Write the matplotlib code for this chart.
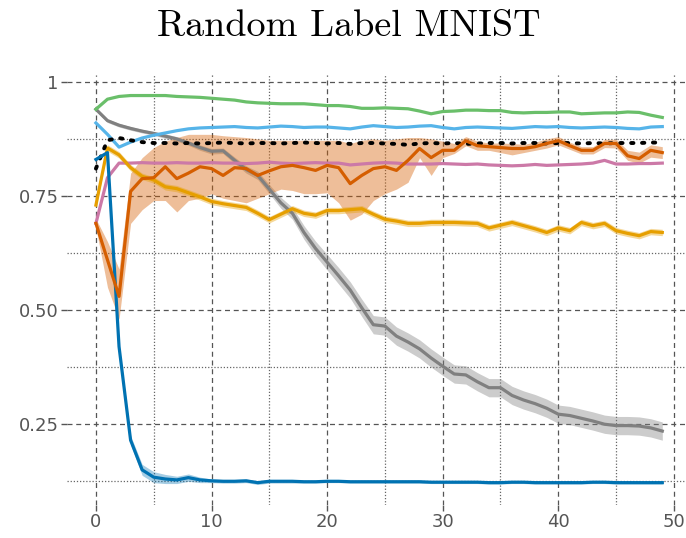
import numpy as np
import matplotlib
matplotlib.use("Agg")
import matplotlib.pyplot as plt
from matplotlib.ticker import MultipleLocator

epochs = np.arange(50)

green = [0.94, 0.962, 0.968, 0.97, 0.97, 0.97, 0.97, 0.968, 0.967, 0.966,
         0.964, 0.962, 0.96, 0.956, 0.954, 0.953, 0.952, 0.952, 0.952, 0.95,
         0.948, 0.948, 0.946, 0.942, 0.942, 0.943, 0.942, 0.941, 0.936, 0.93,
         0.935, 0.936, 0.938, 0.938, 0.937, 0.937, 0.933, 0.932, 0.933, 0.933,
         0.934, 0.934, 0.93, 0.931, 0.932, 0.932, 0.934, 0.933, 0.927, 0.922]

light_blue = [0.91, 0.885, 0.857, 0.868, 0.877, 0.883, 0.888, 0.893, 0.897, 0.899,
              0.9, 0.901, 0.902, 0.9, 0.899, 0.901, 0.903, 0.902, 0.9, 0.901,
              0.901, 0.899, 0.897, 0.901, 0.904, 0.902, 0.9, 0.901, 0.903, 0.904,
              0.9, 0.897, 0.9, 0.901, 0.9, 0.899, 0.898, 0.9, 0.902, 0.901,
              0.902, 0.9, 0.899, 0.9, 0.901, 0.9, 0.898, 0.897, 0.901, 0.902]

gray = [0.94, 0.915, 0.905, 0.898, 0.892, 0.887, 0.881, 0.875, 0.866, 0.856,
        0.848, 0.849, 0.828, 0.808, 0.795, 0.765, 0.735, 0.712, 0.67, 0.635,
        0.605, 0.575, 0.544, 0.505, 0.468, 0.465, 0.443, 0.43, 0.415, 0.395,
        0.377, 0.36, 0.358, 0.343, 0.33, 0.33, 0.313, 0.303, 0.295, 0.285,
        0.272, 0.269, 0.263, 0.257, 0.25, 0.247, 0.247, 0.246, 0.242, 0.235]
gray_err = [0.004, 0.004, 0.004, 0.004, 0.004, 0.004, 0.005, 0.005, 0.005, 0.006,
            0.006, 0.006, 0.007, 0.008, 0.009, 0.01, 0.012, 0.013, 0.015, 0.016,
            0.017, 0.018, 0.018, 0.019, 0.02, 0.02, 0.02, 0.02, 0.02, 0.02,
            0.02, 0.02, 0.02, 0.02, 0.02, 0.02, 0.02, 0.02, 0.02, 0.02,
            0.02, 0.02, 0.02, 0.02, 0.02, 0.02, 0.02, 0.02, 0.02, 0.02]

black_dotted = [0.81, 0.872, 0.877, 0.872, 0.868, 0.866, 0.866, 0.865, 0.866, 0.865,
                0.866, 0.867, 0.866, 0.865, 0.866, 0.866, 0.865, 0.866, 0.867, 0.866,
                0.865, 0.866, 0.864, 0.866, 0.866, 0.865, 0.864, 0.862, 0.865, 0.866,
                0.865, 0.866, 0.864, 0.865, 0.866, 0.866, 0.865, 0.866, 0.866, 0.865,
                0.866, 0.866, 0.865, 0.866, 0.865, 0.866, 0.866, 0.866, 0.867, 0.867]

pink = [0.69, 0.79, 0.822, 0.822, 0.823, 0.822, 0.822, 0.823, 0.822, 0.822,
        0.823, 0.822, 0.822, 0.821, 0.822, 0.824, 0.822, 0.821, 0.822, 0.823,
        0.822, 0.822, 0.818, 0.82, 0.822, 0.823, 0.822, 0.82, 0.82, 0.82,
        0.821, 0.82, 0.819, 0.82, 0.818, 0.817, 0.816, 0.817, 0.819, 0.817,
        0.818, 0.819, 0.82, 0.822, 0.828, 0.82, 0.82, 0.821, 0.821, 0.822]

orange = [0.69, 0.61, 0.53, 0.76, 0.788, 0.79, 0.814, 0.788, 0.8, 0.814,
          0.81, 0.795, 0.812, 0.81, 0.795, 0.805, 0.814, 0.817, 0.812, 0.806,
          0.817, 0.812, 0.777, 0.795, 0.81, 0.814, 0.806, 0.828, 0.854, 0.834,
          0.85, 0.85, 0.871, 0.86, 0.858, 0.856, 0.854, 0.854, 0.858, 0.865,
          0.871, 0.86, 0.85, 0.85, 0.865, 0.865, 0.838, 0.832, 0.85, 0.845]
orange_low = [0.68, 0.55, 0.48, 0.69, 0.72, 0.74, 0.74, 0.715, 0.74, 0.745,
              0.755, 0.745, 0.74, 0.735, 0.745, 0.755, 0.765, 0.762, 0.755, 0.755,
              0.757, 0.735, 0.697, 0.71, 0.74, 0.755, 0.765, 0.78, 0.834, 0.795,
              0.834, 0.843, 0.86, 0.85, 0.85, 0.845, 0.84, 0.845, 0.85, 0.855,
              0.862, 0.852, 0.842, 0.842, 0.856, 0.855, 0.828, 0.822, 0.835, 0.832]
orange_high = [0.7, 0.65, 0.59, 0.8, 0.834, 0.856, 0.87, 0.878, 0.885, 0.885,
               0.885, 0.882, 0.88, 0.878, 0.875, 0.872, 0.872, 0.872, 0.872, 0.872,
               0.872, 0.872, 0.865, 0.872, 0.875, 0.872, 0.875, 0.878, 0.878, 0.875,
               0.87, 0.865, 0.88, 0.87, 0.866, 0.866, 0.865, 0.863, 0.868, 0.875,
               0.88, 0.868, 0.858, 0.858, 0.874, 0.874, 0.85, 0.846, 0.862, 0.858]

yellow = [0.73, 0.855, 0.84, 0.812, 0.793, 0.785, 0.77, 0.766, 0.757, 0.748,
          0.738, 0.733, 0.729, 0.725, 0.712, 0.698, 0.71, 0.722, 0.712, 0.708,
          0.718, 0.718, 0.72, 0.722, 0.71, 0.699, 0.695, 0.69, 0.69, 0.692,
          0.692, 0.692, 0.691, 0.69, 0.68, 0.686, 0.692, 0.685, 0.678, 0.67,
          0.68, 0.674, 0.692, 0.685, 0.69, 0.674, 0.668, 0.663, 0.672, 0.67]
yellow_err = 0.007

dark_blue = [0.83, 0.845, 0.42, 0.215, 0.15, 0.134, 0.13, 0.128, 0.133, 0.128,
             0.126, 0.125, 0.125, 0.126, 0.122, 0.125, 0.125, 0.125, 0.124, 0.124,
             0.125, 0.125, 0.124, 0.124, 0.124, 0.124, 0.124, 0.124, 0.124, 0.123,
             0.123, 0.123, 0.123, 0.123, 0.122, 0.122, 0.123, 0.123, 0.122, 0.122,
             0.122, 0.122, 0.122, 0.123, 0.123, 0.122, 0.122, 0.122, 0.122, 0.122]
dark_blue_err = [0.003, 0.003, 0.006, 0.01, 0.012, 0.012, 0.01, 0.008, 0.008, 0.006,
                 0.004, 0.004, 0.004, 0.004, 0.004, 0.004, 0.004, 0.004, 0.003, 0.003,
                 0.003, 0.003, 0.003, 0.003, 0.003, 0.003, 0.003, 0.003, 0.003, 0.003,
                 0.003, 0.003, 0.003, 0.003, 0.003, 0.003, 0.003, 0.003, 0.003, 0.003,
                 0.003, 0.003, 0.003, 0.003, 0.003, 0.003, 0.003, 0.003, 0.003, 0.003]

ytick_vals = [0.25, 0.5, 0.75, 1.0]
ytick_labels = ["0.25", "0.50", "0.75", "1"]

fig = plt.figure(figsize=(6.86, 5.38), dpi=100)
ax = fig.add_axes([0.0977, 0.0613, 0.9023, 0.7993])

lw = 2.3
g = np.array(gray)
ge = np.array(gray_err)
ax.fill_between(epochs, g - ge, g + ge, color="#808080", alpha=0.4, lw=0, zorder=2)
ax.fill_between(epochs, orange_low, orange_high, color="#d55e00", alpha=0.4, lw=0, zorder=2)
y = np.array(yellow)
ax.fill_between(epochs, y - yellow_err, y + yellow_err, color="#e69f00", alpha=0.4, lw=0, zorder=2)
b = np.array(dark_blue)
be = np.array(dark_blue_err)
ax.fill_between(epochs, b - be, b + be, color="#0072b2", alpha=0.35, lw=0, zorder=2)

ax.plot(epochs, gray, color="#808080", lw=lw, zorder=3)
ax.plot(epochs, green, color="#6abf6a", lw=lw, zorder=3)
ax.plot(epochs, light_blue, color="#56b4e9", lw=lw, zorder=3)
ax.plot(epochs, pink, color="#cc79a7", lw=lw, zorder=3)
ax.plot(epochs, yellow, color="#e69f00", lw=lw, zorder=3)
ax.plot(epochs, black_dotted, color="black", lw=2.8, ls=(0, (0.6, 2.2)),
        dash_capstyle="round", zorder=3)
ax.plot(epochs, dark_blue, color="#0072b2", lw=lw, zorder=3)
ax.plot(epochs, orange, color="#d55e00", lw=lw, zorder=3)

ax.set_xlim(-2.5, 51.05)
ax.set_ylim(0.073, 1.015)
ax.xaxis.set_major_locator(MultipleLocator(10))
ax.xaxis.set_minor_locator(MultipleLocator(5))
ax.set_yticks(ytick_vals)
ax.set_yticklabels(ytick_labels)
ax.yaxis.set_minor_locator(MultipleLocator(0.125))

ax.grid(which="major", color="#555555", ls=(0, (4, 3)), lw=0.9, zorder=0)
ax.grid(which="minor", color="#666666", ls=(0, (1, 1.5)), lw=0.9, zorder=0)
for s in ax.spines.values():
    s.set_visible(False)
ax.tick_params(which="major", direction="out", length=4, width=1, color="#555555",
               labelcolor="#555555", labelsize=13, pad=2)
ax.tick_params(which="minor", length=0)
ax.set_axisbelow(True)

fig.text(0.508, 1 - 36 / 538, "Random Label MNIST", fontname="cmr10", fontsize=27.5,
         ha="center", va="baseline")

fig.savefig("out.png", dpi=100)
